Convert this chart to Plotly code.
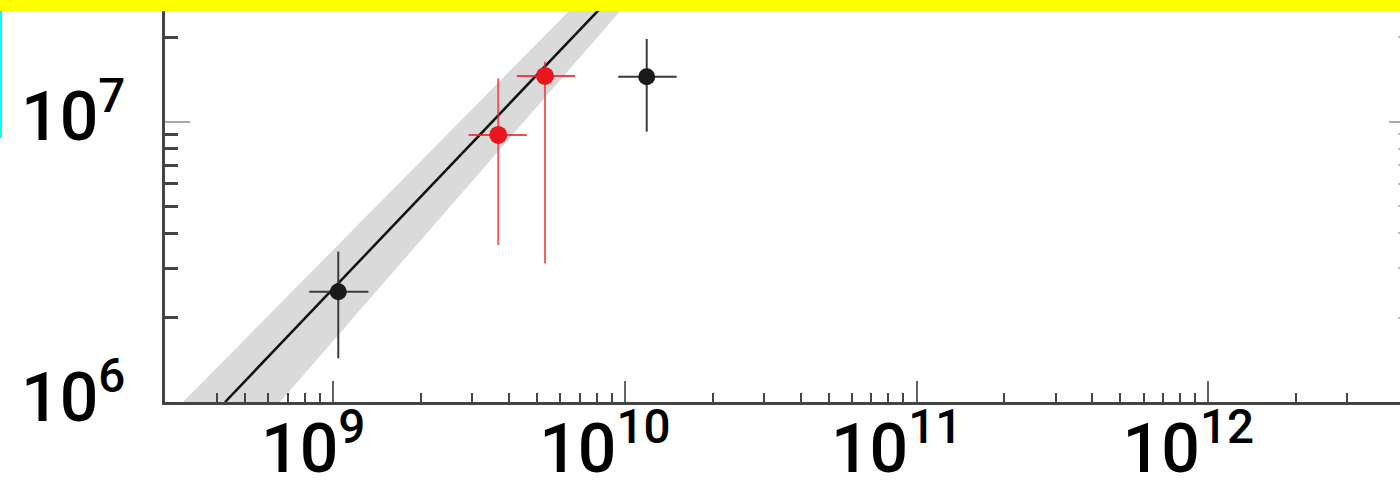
import plotly.graph_objects as go

# ---- data ----
black_x = [1.041e9, 1.188e10]
black_x_lo = [8.28e8, 9.49e9]
black_x_hi = [1.32e9, 1.505e10]
black_y = [2.475e6, 1.447e7]
black_y_lo = [1.432e6, 9.21e6]
black_y_hi = [3.44e6, 1.972e7]

red_x = [3.68e9, 5.32e9]
red_x_lo = [2.91e9, 4.26e9]
red_x_hi = [4.61e9, 6.75e9]
red_y = [8.97e6, 1.456e7]
red_y_lo = [3.63e6, 3.12e6]
red_y_hi = [1.428e7, 1.637e7]

fit_x = [4.26e8, 8.78e9]
fit_y = [1.0e6, 2.72e7]

band_y = [1.0e6, 2.72e7]
band_left_x = [3.055e8, 7.02e9]
band_right_x = [6.57e8, 1.041e10]

x_tick_vals = [1e9, 1e10, 1e11, 1e12]
x_tick_text = ["10<sup>9</sup>", "10<sup>10</sup>", "10<sup>11</sup>", "10<sup>12</sup>"]
y_tick_vals = [1e6, 1e7]
y_tick_text = ["10<sup>6</sup>", "10<sup>7</sup>"]

x_minor = [m * 1e8 for m in range(4, 10)] + [m * 10 ** e for e in (9, 10, 11) for m in range(2, 10)] + [2e12, 3e12]
y_minor = [m * 1e6 for m in range(2, 10)] + [2e7]

X_RANGE = [8.4234, 12.6572]
Y_RANGE = [6.0, 7.434]


def plus(v, hi):
    return [h - a for a, h in zip(v, hi)]


def minus(v, lo):
    return [a - l for a, l in zip(v, lo)]


fig = go.Figure()

fig.add_trace(go.Scatter(
    x=band_left_x + band_right_x[::-1],
    y=band_y + band_y[::-1],
    fill="toself", fillcolor="#dadada", mode="lines",
    line=dict(width=0, color="#dadada"), hoverinfo="skip", showlegend=False))

fig.add_trace(go.Scatter(
    x=fit_x, y=fit_y, mode="lines",
    line=dict(color="#111111", width=2.5), showlegend=False))

fig.add_trace(go.Scatter(
    x=black_x, y=black_y, mode="markers",
    marker=dict(color="#1a1a1a", size=17),
    error_x=dict(type="data", symmetric=False, array=plus(black_x, black_x_hi),
                 arrayminus=minus(black_x, black_x_lo), color="#3a3a3a", thickness=2, width=0),
    error_y=dict(type="data", symmetric=False, array=plus(black_y, black_y_hi),
                 arrayminus=minus(black_y, black_y_lo), color="#3a3a3a", thickness=2, width=0),
    showlegend=False))

fig.add_trace(go.Scatter(
    x=red_x, y=red_y, mode="markers",
    marker=dict(color="#e8171d", size=18),
    error_x=dict(type="data", symmetric=False, array=plus(red_x, red_x_hi),
                 arrayminus=minus(red_x, red_x_lo), color="rgba(236,40,45,0.85)", thickness=2, width=0),
    error_y=dict(type="data", symmetric=False, array=plus(red_y, red_y_hi),
                 arrayminus=minus(red_y, red_y_lo), color="rgba(236,40,45,0.75)", thickness=2, width=0),
    showlegend=False))

# invisible trace to hold the right-hand mirror axis
fig.add_trace(go.Scatter(x=[1e10], y=[1e7], yaxis="y2", mode="markers",
                         marker=dict(opacity=0), hoverinfo="skip", showlegend=False))

FONT = dict(family="Roboto, sans-serif", size=68, color="#000000", weight=500)

fig.update_layout(
    width=1400, height=482,
    margin=dict(l=165, r=0, t=0, b=80, autoexpand=False),
    paper_bgcolor="white", plot_bgcolor="white",
    showlegend=False,
    xaxis=dict(type="log", range=X_RANGE, showgrid=False, zeroline=False, automargin=False,
               showline=True, linecolor="#444444", linewidth=3,
               tickmode="array", tickvals=x_tick_vals, ticktext=x_tick_text,
               ticks="inside", ticklen=21, tickwidth=2, tickcolor="#666666",
               tickfont=FONT, ticklabelshift=-20, ticklabelstandoff=-15,
               minor=dict(tickmode="array", tickvals=x_minor, ticks="inside",
                          ticklen=9, tickwidth=2, tickcolor="#444444", showgrid=False)),
    yaxis=dict(type="log", range=Y_RANGE, showgrid=False, zeroline=False, automargin=False,
               showline=True, linecolor="#444444", linewidth=3,
               tickmode="array", tickvals=y_tick_vals, ticktext=y_tick_text,
               ticks="inside", ticklen=25, tickwidth=1.5, tickcolor="#aaaaaa",
               tickfont=FONT, ticklabelstandoff=23, ticklabelshift=-5,
               minor=dict(tickmode="array", tickvals=y_minor, ticks="inside",
                          ticklen=13, tickwidth=2.5, tickcolor="#444444", showgrid=False)),
    yaxis2=dict(type="log", range=Y_RANGE, overlaying="y", side="right", automargin=False,
                showgrid=False, zeroline=False, showline=False, showticklabels=False,
                tickmode="array", tickvals=[1e7], ticks="inside", ticklen=11,
                tickwidth=2, tickcolor="#aaaaaa",
                minor=dict(tickmode="array", tickvals=y_minor, ticks="inside",
                           ticklen=2, tickwidth=2, tickcolor="#bbbbbb", showgrid=False)),
    shapes=[
        dict(type="rect", xref="paper", yref="paper", x0=-0.14, x1=1.01,
             y0=(402 - 11) / 402, y1=1.02, fillcolor="#ffff00", line=dict(width=0), layer="above"),
        dict(type="rect", xref="paper", yref="paper", x0=-165 / 1235, x1=-163 / 1235,
             y0=(402 - 138) / 402, y1=(402 - 11) / 402, fillcolor="#00ffff", line=dict(width=0), layer="above"),
    ],
)

fig.write_html("out.html")
